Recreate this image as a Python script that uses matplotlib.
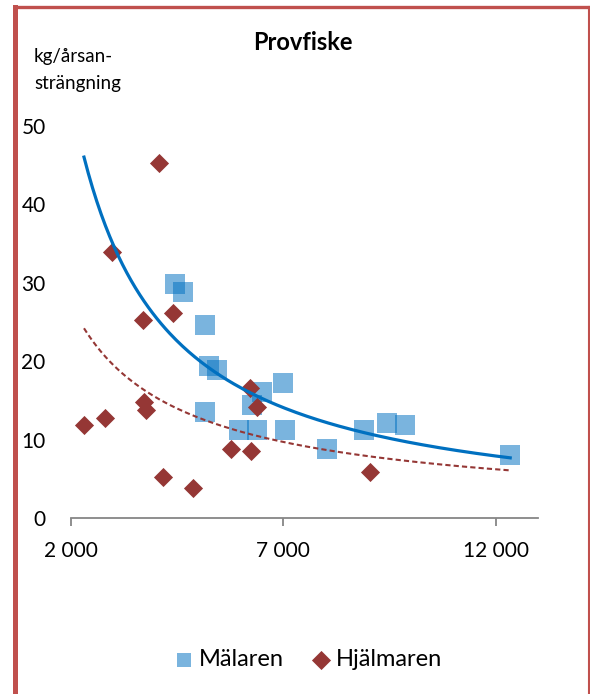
import numpy as np
import matplotlib.pyplot as plt
from matplotlib.lines import Line2D
from matplotlib.ticker import FuncFormatter

plt.rcParams['font.family'] = ['Lato', 'DejaVu Sans']

# Mälaren
malaren_x = [4456, 4645, 5163, 5257, 5445, 5163, 5964, 6388, 6270, 6505,
             7000, 7047, 8036, 8908, 9449, 9873, 12346]
malaren_y = [29.9, 28.8, 24.6, 19.4, 18.9, 13.5, 11.2, 11.2, 14.4, 16.1,
             17.2, 11.2, 8.8, 11.2, 12.1, 11.9, 8.1]

# Hjälmaren
hjalmaren_x = [4080, 2973, 3703, 4409, 2313, 2808, 3726, 3773, 4174, 4881,
               5775, 6246, 6222, 6387, 9049]
hjalmaren_y = [45.3, 33.9, 25.3, 26.2, 11.9, 12.8, 14.8, 13.8, 5.2, 3.9,
               8.8, 8.6, 16.6, 14.2, 5.9]

# power trendlines y = a*x^b as (x, y) at both ends
trend_x = [2313, 12346]
malaren_trend_y = [46.0, 7.7]
hjalmaren_trend_y = [24.2, 6.1]

blue = '#0070C0'
red = '#953735'

fig = plt.figure(figsize=(5.9, 6.94), dpi=100)
ax = fig.add_axes([70.7 / 590, 1 - 518.3 / 694, (538 - 70.7) / 590, (518.3 - 125.7) / 694])

ax.scatter(malaren_x, malaren_y, marker='s', s=190, color=blue, alpha=0.52,
           linewidths=0, label='Mälaren', zorder=2)
ax.scatter(hjalmaren_x, hjalmaren_y, marker='D', s=95, color=red,
           linewidths=0, label='Hjälmaren', zorder=3)


def power_curve(xe, ye, xs):
    b = np.log(ye[1] / ye[0]) / np.log(xe[1] / xe[0])
    a = ye[0] / xe[0] ** b
    return a * xs ** b


xs = np.linspace(trend_x[0], trend_x[1], 200)
ax.plot(xs, power_curve(trend_x, malaren_trend_y, xs), color=blue, lw=2.3, zorder=4)
ax.plot(xs, power_curve(trend_x, hjalmaren_trend_y, xs), color=red, lw=1.5,
        ls=(0, (2.5, 1.5)), zorder=4)

ax.set_xlim(2000, 13000)
ax.set_ylim(0, 50)
ax.set_xticks([2000, 7000, 12000])
ax.set_yticks([0, 10, 20, 30, 40, 50])
ax.xaxis.set_major_formatter(FuncFormatter(lambda v, p: f'{int(v):,}'.replace(',', ' ')))
for s in ['top', 'right', 'left']:
    ax.spines[s].set_visible(False)
ax.spines['bottom'].set_color('#868686')
ax.spines['bottom'].set_linewidth(1.3)
ax.tick_params(axis='x', direction='out', length=6, width=1.3, color='#868686',
               labelsize=15, pad=10)
ax.tick_params(axis='y', length=0, labelsize=15, pad=18)

fig.text(303 / 590, 1 - 42 / 694, 'Provfiske', ha='center', va='center',
         fontsize=17, fontweight='bold')
fig.text(34 / 590, 1 - 70 / 694, 'kg/årsan-\nsträngning', ha='left', va='center',
         fontsize=13.5, linespacing=1.75)

leg = fig.legend(loc='center', bbox_to_anchor=(306 / 590, 1 - 660 / 694), ncol=2,
                 frameon=False, fontsize=17, handletextpad=0.0, columnspacing=1.0,
                 handlelength=1.2)
leg.legend_handles[0].set_sizes([115])
leg.legend_handles[1].set_sizes([95])

# red chart border
fig.add_artist(Line2D([15 / 590, 15 / 590], [0, 1 - 7 / 694], color='#C0504D', lw=3.6))
fig.add_artist(Line2D([15 / 590, 588.5 / 590], [1 - 7 / 694, 1 - 7 / 694], color='#C0504D', lw=2.4))
fig.add_artist(Line2D([588.5 / 590, 588.5 / 590], [0, 1 - 7 / 694], color='#C0504D', lw=1.5))

fig.savefig('out.png', dpi=100)
